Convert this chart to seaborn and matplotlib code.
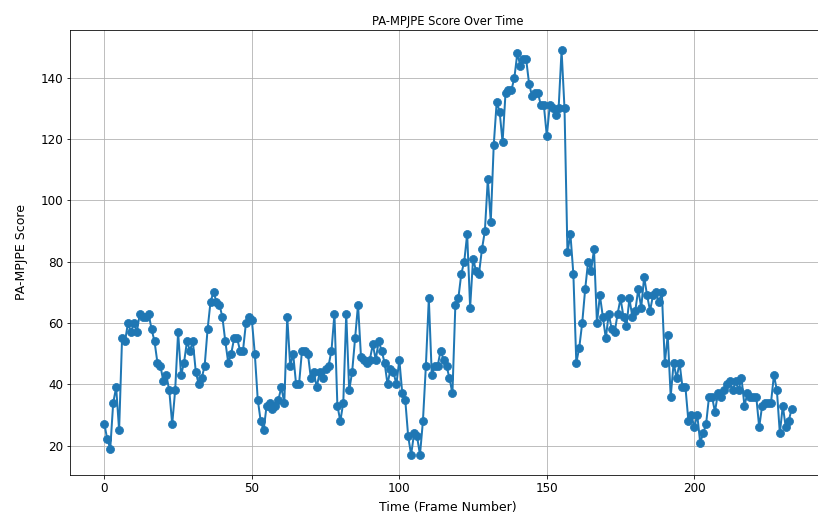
import matplotlib
matplotlib.use("Agg")
import matplotlib.pyplot as plt
import seaborn as sns
import numpy as np

# PA-MPJPE per frame
scores = [
    27, 22, 19, 34, 39, 25, 55, 54, 60, 57,
    60, 57, 63, 62, 62, 63, 58, 54, 47, 46,
    41, 43, 38, 27, 38, 57, 43, 47, 54, 51,
    54, 44, 40, 42, 46, 58, 67, 70, 67, 66,
    62, 54, 47, 50, 55, 55, 51, 51, 60, 62,
    61, 50, 35, 28, 25, 33, 34, 32, 33, 35,
    39, 34, 62, 46, 50, 40, 40, 51, 51, 50,
    42, 44, 39, 44, 42, 45, 46, 51, 63, 33,
    28, 34, 63, 38, 44, 55, 66, 49, 48, 47,
    48, 53, 48, 54, 51, 47, 40, 45, 44, 40,
    48, 37, 35, 23, 17, 24, 23, 17, 28, 46,
    68, 43, 46, 46, 51, 48, 46, 42, 37, 66,
    68, 76, 80, 89, 65, 81, 77, 76, 84, 90,
    107, 93, 118, 132, 129, 119, 135, 136, 136, 140,
    148, 144, 146, 146, 138, 134, 135, 135, 131, 131,
    121, 131, 130, 128, 130, 149, 130, 83, 89, 76,
    47, 52, 60, 71, 80, 77, 84, 60, 69, 62,
    55, 63, 58, 57, 63, 68, 62, 59, 68, 62,
    64, 71, 65, 75, 69, 64, 69, 70, 67, 70,
    47, 56, 36, 47, 42, 47, 39, 39, 28, 30,
    26, 30, 21, 24, 27, 36, 36, 31, 37, 36,
    38, 40, 41, 38, 41, 38, 42, 33, 37, 36,
    36, 36, 26, 33, 34, 34, 34, 43, 38, 24,
    33, 26, 28, 32,
]
frames = np.arange(len(scores))

fig = plt.figure(figsize=(818 / 72, 521 / 72), dpi=72)
ax = fig.add_axes([70 / 818, 46 / 521, 756 / 818, 445 / 521])

sns.lineplot(x=frames, y=scores, marker="o", color="#1f77b4",
             markeredgecolor="#1f77b4", markersize=8, linewidth=2, ax=ax)

ax.set_title("PA-MPJPE Score Over Time", fontsize=11.5, pad=5)
ax.set_xlabel("Time (Frame Number)", fontsize=12.5, labelpad=6)
ax.set_ylabel("PA-MPJPE Score", fontsize=12.5, labelpad=12)
ax.tick_params(labelsize=12)
ax.grid(True)

fig.savefig("out.png", dpi=72)
